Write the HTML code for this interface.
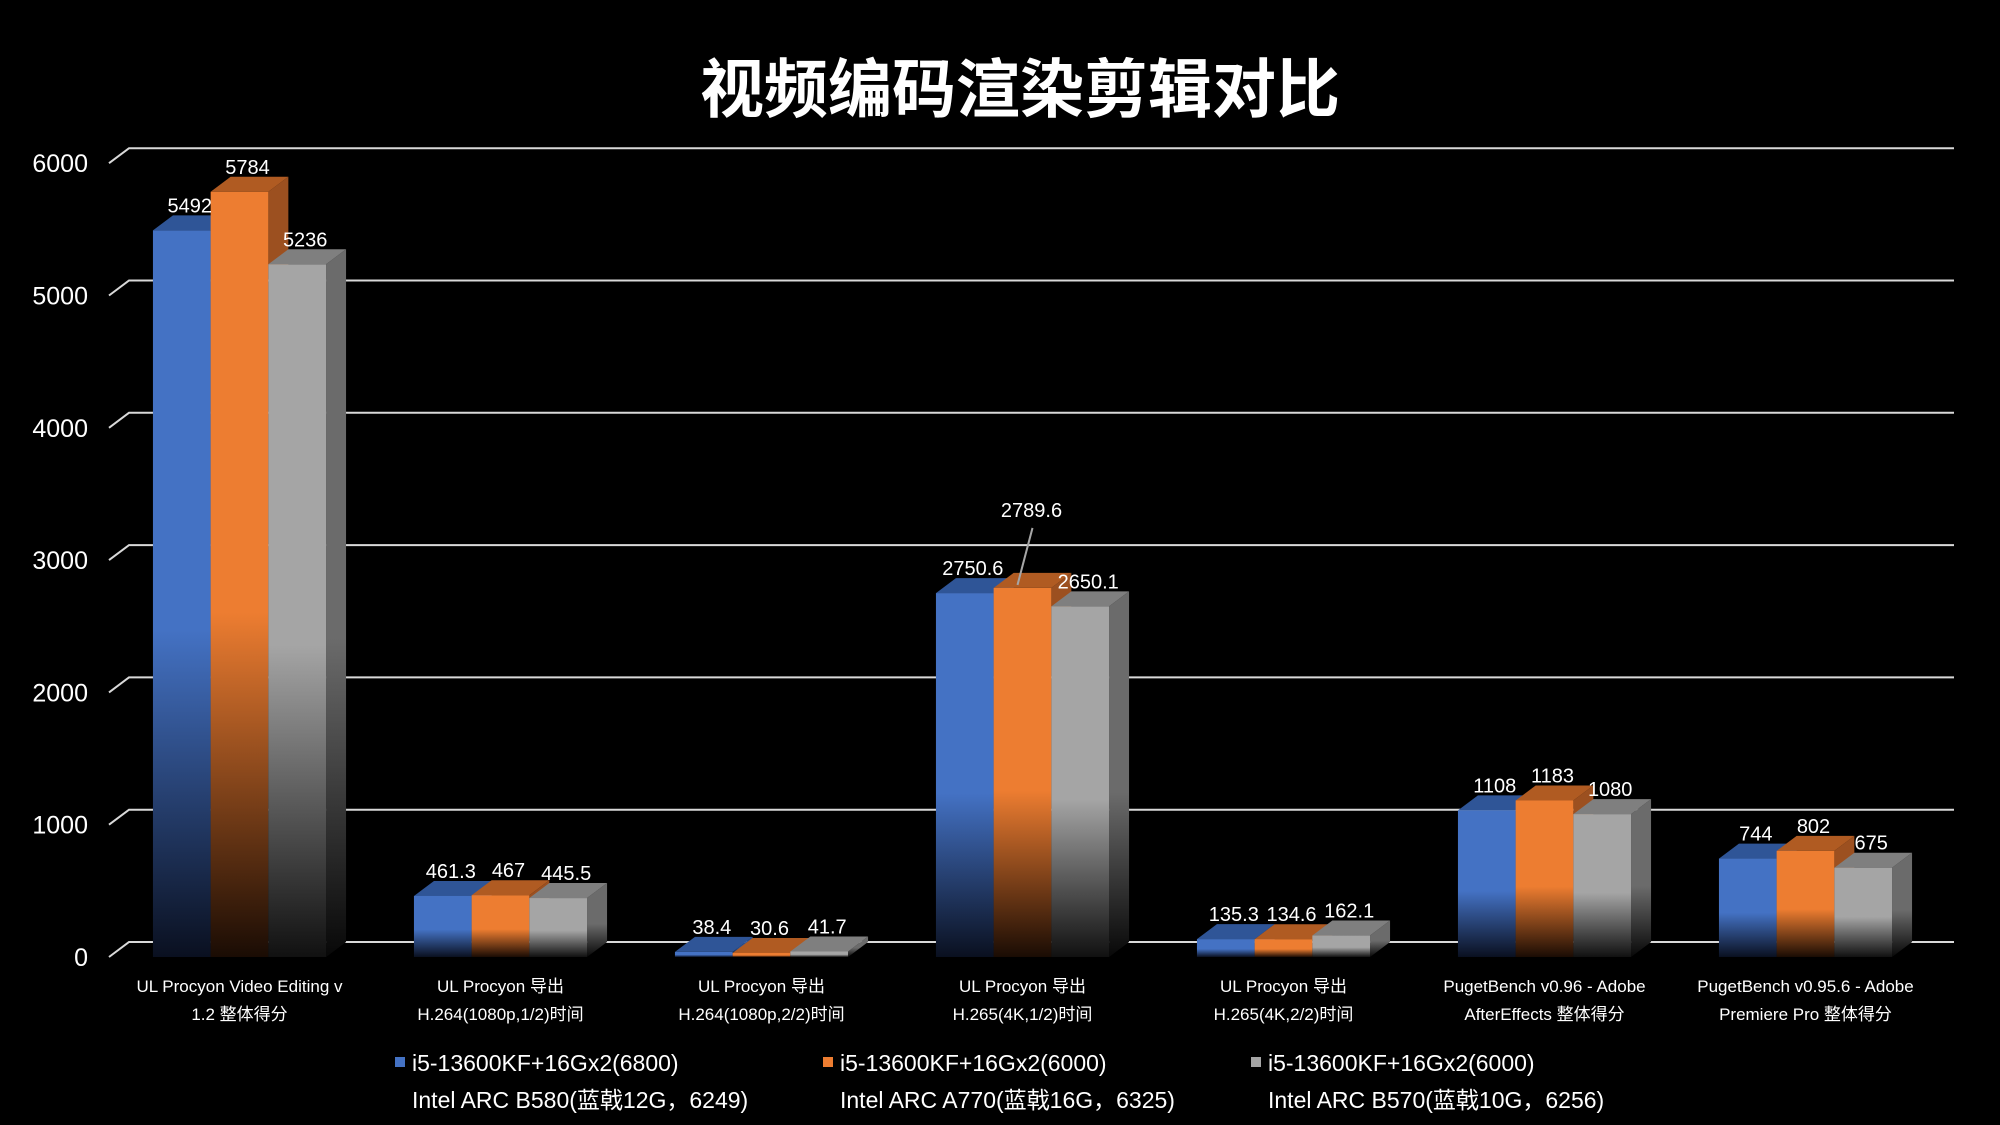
<!DOCTYPE html>
<html><head><meta charset="utf-8"><style>
html,body{margin:0;padding:0;background:#000;}
svg{display:block;}
text{font-family:"Liberation Sans","Noto Sans CJK SC",sans-serif;fill:#fff;}
</style></head><body>
<svg id="chart" width="2000" height="1125" viewBox="0 0 2000 1125" xmlns="http://www.w3.org/2000/svg">
<defs>
<linearGradient id="fadeB" x1="0" y1="0" x2="0" y2="1"><stop offset="0" stop-color="#4472C4"/><stop offset="0.55" stop-color="#4472C4"/><stop offset="1" stop-color="#0a1020"/></linearGradient>
<linearGradient id="fadeO" x1="0" y1="0" x2="0" y2="1"><stop offset="0" stop-color="#ED7D31"/><stop offset="0.55" stop-color="#ED7D31"/><stop offset="1" stop-color="#1a0c04"/></linearGradient>
<linearGradient id="fadeG" x1="0" y1="0" x2="0" y2="1"><stop offset="0" stop-color="#A5A5A5"/><stop offset="0.55" stop-color="#A5A5A5"/><stop offset="1" stop-color="#111"/></linearGradient>
<linearGradient id="sideB" x1="0" y1="0" x2="0" y2="1"><stop offset="0" stop-color="#2f5597"/><stop offset="0.55" stop-color="#2f5597"/><stop offset="1" stop-color="#050810"/></linearGradient>
<linearGradient id="sideO" x1="0" y1="0" x2="0" y2="1"><stop offset="0" stop-color="#9c5020"/><stop offset="0.55" stop-color="#9c5020"/><stop offset="1" stop-color="#100602"/></linearGradient>
<linearGradient id="sideG" x1="0" y1="0" x2="0" y2="1"><stop offset="0" stop-color="#6b6b6b"/><stop offset="0.55" stop-color="#6b6b6b"/><stop offset="1" stop-color="#080808"/></linearGradient>
</defs>
<text x="1020" y="112" font-size="64" font-weight="bold" text-anchor="middle">视频编码渲染剪辑对比</text>
<g id="grid"></g><g id="bars"></g><g id="labels"></g><g id="legend"></g>
</svg>
<script>
const categories = [
  ["UL Procyon Video Editing v","1.2 整体得分"],
  ["UL Procyon 导出","H.264(1080p,1/2)时间"],
  ["UL Procyon 导出","H.264(1080p,2/2)时间"],
  ["UL Procyon 导出","H.265(4K,1/2)时间"],
  ["UL Procyon 导出","H.265(4K,2/2)时间"],
  ["PugetBench v0.96 - Adobe","AfterEffects 整体得分"],
  ["PugetBench v0.95.6 - Adobe","Premiere Pro 整体得分"]
];
const seriesB580 = [5492, 461.3, 38.4, 2750.6, 135.3, 1108, 744];
const seriesA770 = [5784, 467, 30.6, 2789.6, 134.6, 1183, 802];
const seriesB570 = [5236, 445.5, 41.7, 2650.1, 162.1, 1080, 675];
const yTicks = [0, 1000, 2000, 3000, 4000, 5000, 6000];
const legendLine1 = ["i5-13600KF+16Gx2(6800)","i5-13600KF+16Gx2(6000)","i5-13600KF+16Gx2(6000)"];
const legendLine2 = ["Intel ARC B580(蓝戟12G，6249)","Intel ARC A770(蓝戟16G，6325)","Intel ARC B570(蓝戟10G，6256)"];

const NS="http://www.w3.org/2000/svg";
const DX=20, DY=15, BACK0=942, PXPER=0.1323, BW=57.7;
function yBack(v){return BACK0 - v*PXPER;}
function yFront(v){return BACK0 + DY - v*PXPER;}
function groupCenter(i){return 239.5 + i*261;}
function mk(tag,attrs,parent){const e=document.createElementNS(NS,tag);for(const k in attrs)e.setAttribute(k,attrs[k]);parent.appendChild(e);return e;}
const grid=document.getElementById('grid'), bars=document.getElementById('bars'), labels=document.getElementById('labels'), legend=document.getElementById('legend');

yTicks.forEach(t=>{
  const y=yBack(t);
  const gl=mk('path',{d:`M109 ${y+DY} L129 ${y} L1954 ${y}`,stroke:'#d9d9d9','stroke-width':2,fill:'none'},grid);
  
  
  const tl=mk('text',{x:88,y:y+DY+9,'font-size':25,'text-anchor':'end'},grid);
  
  
  tl.textContent=t;
});

const series=[{d:seriesB580,f:'url(#fadeB)',s:'url(#sideB)',t:'#2f5597',c:'#4472C4'},
              {d:seriesA770,f:'url(#fadeO)',s:'url(#sideO)',t:'#b05b22',c:'#ED7D31'},
              {d:seriesB570,f:'url(#fadeG)',s:'url(#sideG)',t:'#7f7f7f',c:'#A5A5A5'}];
categories.forEach((cat,i)=>{
  const c=groupCenter(i);
  series.forEach((s,j)=>{
    const v=s.d[i];
    const x=c-1.5*BW+j*BW;
    const yf=yFront(v), yb=yBack(v), base=BACK0+DY;
    const g=mk('g',{},bars);
    
    
    mk('path',{d:`M${x+BW} ${yf} L${x+BW+DX} ${yb} L${x+BW+DX} ${base-DY} L${x+BW} ${base} Z`,fill:s.s},g);
    mk('path',{d:`M${x} ${yf} L${x+DX} ${yb} L${x+BW+DX} ${yb} L${x+BW} ${yf} Z`,fill:s.t},g);
    mk('rect',{x:x,y:yf,width:BW,height:Math.max(base-yf,0.5),fill:s.f},g);
    let lx=x+BW/2+8, ly=yb-3;
    const vl=mk('text',{'font-size':20,'text-anchor':'middle'},labels);
    if(i===3 && j===1){
      lx=x+BW/2+9; ly=yBack(v)-56;
      const ln=mk('line',{x1:lx+1,y1:ly+11,x2:x+BW/2-5,y2:yb+12,stroke:'#a6a6a6','stroke-width':2},labels);
      
      
    }
    vl.setAttribute('x',lx); vl.setAttribute('y',ly);
    
    
    vl.textContent=v;
  });
  cat.forEach((line,k)=>{
    const t=mk('text',{x:c,y:992+k*28,'font-size':17,'text-anchor':'middle'},labels);
    
    
    t.textContent=line;
  });
});

legendLine1.forEach((l,i)=>{
  const x=395+i*428;
  const g=mk('g',{},legend);
  
  
  mk('rect',{x:x,y:1057,width:10,height:10,fill:series[i].c},g);
  const t1=mk('text',{x:x+17,y:1071,'font-size':23},g);
  t1.textContent=l;
  const t2=mk('text',{x:x+17,y:1108,'font-size':23},g);
  t2.textContent=legendLine2[i];
});
</script>
</body></html>
